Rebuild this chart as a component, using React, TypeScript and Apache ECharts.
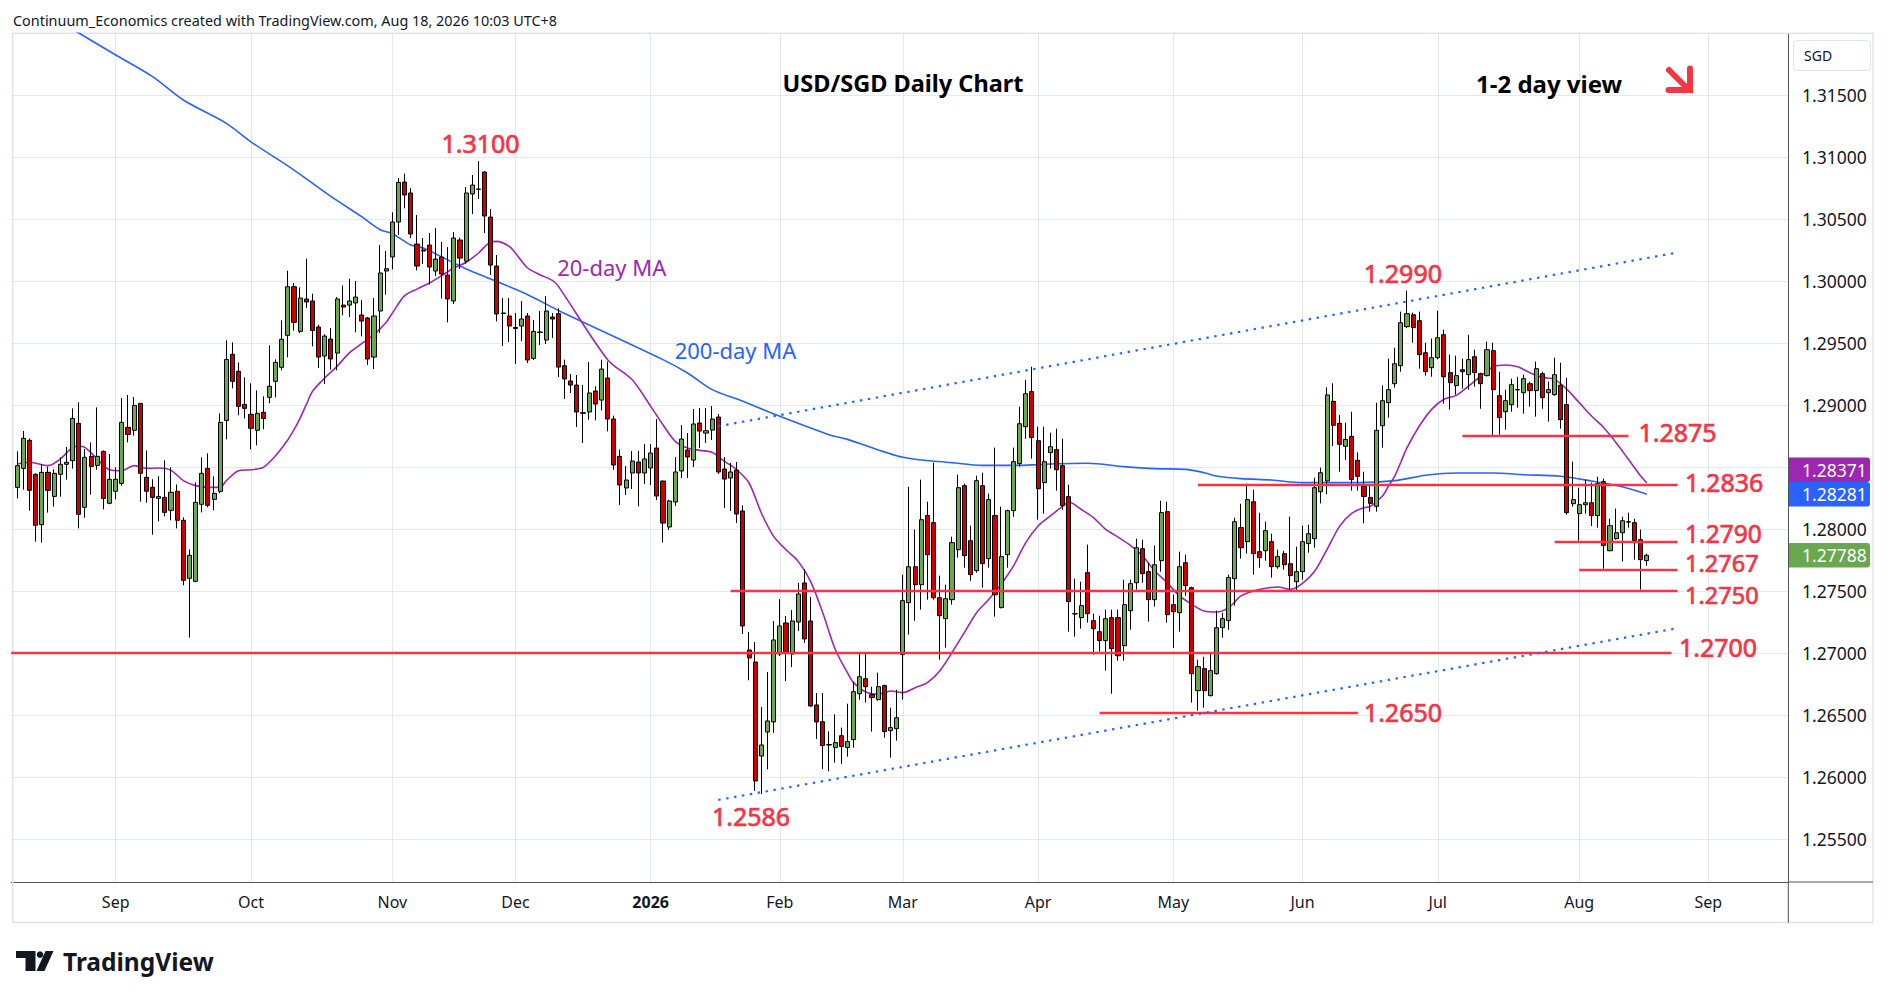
import React, { useEffect, useRef } from "react";
import * as echarts from "echarts";

// ---------- DATA ----------
// Daily candles, each row = [open, high, low, close]
const aug2025 = [
  [1.28336, 1.28626, 1.28247, 1.28511], [1.28489, 1.2879, 1.28317, 1.28731], [1.28715, 1.28731, 1.28148, 1.28312],
  [1.28441, 1.2845, 1.27898, 1.2803], [1.28035, 1.28522, 1.2789, 1.28457], [1.28457, 1.28503, 1.28132, 1.28312],
  [1.28263, 1.28481, 1.2818, 1.28449], [1.28441, 1.28578, 1.28261, 1.28522], [1.28522, 1.28661, 1.28398, 1.28538],
  [1.28551, 1.28973, 1.28487, 1.28892], [1.28852, 1.29022, 1.28005, 1.28118], [1.28175, 1.28645, 1.28091, 1.28578],
  [1.28586, 1.28699, 1.28277, 1.28505], [1.28513, 1.28981, 1.28478, 1.28586], [1.28626, 1.28634, 1.28159, 1.28247],
  [1.28207, 1.28605, 1.282, 1.28401],
];
const sep2025 = [
  [1.28304, 1.28497, 1.28239, 1.28401], [1.28368, 1.29056, 1.28349, 1.2886], [1.2882, 1.29081, 1.28699, 1.28763],
  [1.28796, 1.29065, 1.28753, 1.28997], [1.29013, 1.29015, 1.2822, 1.28449], [1.28417, 1.28634, 1.28212, 1.28304],
  [1.28336, 1.28401, 1.27954, 1.28255], [1.28247, 1.28425, 1.28062, 1.28263], [1.28255, 1.28554, 1.28102, 1.28134],
  [1.28151, 1.28497, 1.2807, 1.28296], [1.28304, 1.2836, 1.28005, 1.2807], [1.2807, 1.28094, 1.27546, 1.27586],
  [1.27602, 1.27836, 1.27124, 1.27788], [1.27578, 1.28376, 1.2757, 1.28215], [1.28199, 1.28578, 1.28134, 1.28449],
  [1.28489, 1.2861, 1.28175, 1.28191], [1.28239, 1.28425, 1.28151, 1.28288], [1.28304, 1.28933, 1.28288, 1.2886],
  [1.28876, 1.29522, 1.28723, 1.29368], [1.29409, 1.29505, 1.29134, 1.29191], [1.29272, 1.29344, 1.28917, 1.28989],
  [1.29005, 1.29223, 1.28892, 1.28973],
];
const oct2025 = [
  [1.28925, 1.29175, 1.28642, 1.28812], [1.28796, 1.29118, 1.28675, 1.28933], [1.28941, 1.2907, 1.28804, 1.28892],
  [1.29062, 1.29481, 1.29013, 1.29151], [1.29191, 1.29368, 1.29062, 1.29344], [1.29304, 1.29683, 1.2928, 1.2953],
  [1.29562, 1.30083, 1.29384, 1.29954], [1.29954, 1.29984, 1.296, 1.29667], [1.29594, 1.29949, 1.2958, 1.29863],
  [1.29855, 1.3018, 1.29782, 1.29831], [1.29839, 1.29898, 1.29473, 1.29602], [1.29629, 1.29648, 1.29298, 1.29387],
  [1.29395, 1.2957, 1.29169, 1.29556], [1.29532, 1.29621, 1.29285, 1.29371], [1.29419, 1.29871, 1.2928, 1.29855],
  [1.29806, 1.29965, 1.29723, 1.2979], [1.29806, 1.30019, 1.2971, 1.29839], [1.29823, 1.3, 1.29586, 1.29871],
  [1.29726, 1.29847, 1.29554, 1.29677], [1.29702, 1.2971, 1.29323, 1.29371], [1.29387, 1.29863, 1.2929, 1.29718],
  [1.29758, 1.3029, 1.29581, 1.30065], [1.30081, 1.30242, 1.2989, 1.30099],
];
const nov2025 = [
  [1.30194, 1.30554, 1.30094, 1.30476], [1.30476, 1.30831, 1.30371, 1.30796], [1.30798, 1.30866, 1.30586, 1.30694],
  [1.3071, 1.3075, 1.30347, 1.30379], [1.30298, 1.30532, 1.30086, 1.30121], [1.3025, 1.30347, 1.30137, 1.30242],
  [1.3029, 1.30387, 1.2997, 1.30113], [1.30081, 1.30427, 1.3004, 1.30177], [1.30194, 1.30315, 1.29858, 1.30056],
  [1.30048, 1.30274, 1.29667, 1.29855], [1.29839, 1.30395, 1.29815, 1.30347], [1.30331, 1.3035, 1.30097, 1.30185],
  [1.30161, 1.30758, 1.30137, 1.3071], [1.30702, 1.30855, 1.3054, 1.30774], [1.30739, 1.30968, 1.30661, 1.30742],
  [1.30879, 1.30887, 1.30387, 1.30524], [1.30516, 1.30581, 1.30048, 1.30129], [1.30121, 1.3021, 1.29675, 1.29734],
  [1.29742, 1.29863, 1.29476, 1.29739], [1.29718, 1.29863, 1.29508, 1.29637],
];
const dec2025 = [
  [1.29626, 1.29742, 1.29331, 1.29618], [1.29637, 1.29839, 1.29516, 1.29694], [1.29718, 1.29742, 1.29339, 1.29363],
  [1.29376, 1.29685, 1.29363, 1.29594], [1.29589, 1.29758, 1.29484, 1.29586], [1.29524, 1.29879, 1.29492, 1.29758],
  [1.2971, 1.29742, 1.2954, 1.29694], [1.29737, 1.2978, 1.29226, 1.29306], [1.29317, 1.29366, 1.29048, 1.2921],
  [1.29194, 1.2925, 1.29097, 1.29161], [1.29161, 1.29242, 1.28823, 1.28944], [1.28938, 1.29161, 1.28694, 1.28933],
  [1.28944, 1.29347, 1.28882, 1.29097], [1.29113, 1.2915, 1.28876, 1.29008], [1.2904, 1.29366, 1.28957, 1.2929],
  [1.29218, 1.2935, 1.28788, 1.28887], [1.28887, 1.28914, 1.28478, 1.28516], [1.28586, 1.2864, 1.28194, 1.28355],
  [1.28331, 1.28508, 1.28274, 1.28395], [1.28452, 1.28629, 1.28323, 1.28548], [1.2854, 1.28629, 1.28183, 1.28452],
  [1.28452, 1.28685, 1.28363, 1.28565],
];
const jan2026 = [
  [1.28492, 1.28685, 1.28355, 1.28613], [1.28653, 1.28887, 1.28234, 1.28266], [1.28387, 1.2839, 1.27892, 1.28048],
  [1.28016, 1.28236, 1.27992, 1.28226], [1.28218, 1.28581, 1.28185, 1.2846], [1.28468, 1.28839, 1.28411, 1.28726],
  [1.28637, 1.28774, 1.28411, 1.28581], [1.28556, 1.28968, 1.285, 1.28847], [1.28855, 1.28976, 1.28653, 1.2879],
  [1.28774, 1.28976, 1.28694, 1.28793], [1.28798, 1.28992, 1.28718, 1.28887], [1.28903, 1.28927, 1.28444, 1.2846],
  [1.28484, 1.28581, 1.28169, 1.28403], [1.28411, 1.28532, 1.28145, 1.2846], [1.28476, 1.2854, 1.28048, 1.28121],
  [1.28145, 1.28191, 1.27153, 1.27218], [1.27024, 1.2717, 1.2678, 1.2696], [1.26927, 1.27089, 1.25887, 1.25968],
  [1.26169, 1.26565, 1.25863, 1.26258], [1.26363, 1.26847, 1.26062, 1.26452], [1.26444, 1.27258, 1.26355, 1.27105],
];
const feb2026 = [
  [1.26992, 1.27435, 1.26976, 1.27218], [1.27242, 1.27298, 1.26774, 1.27008], [1.26992, 1.27347, 1.26887, 1.27258],
  [1.2725, 1.27565, 1.27177, 1.27476], [1.27565, 1.27677, 1.27081, 1.27113], [1.27258, 1.27452, 1.26565, 1.26573],
  [1.26581, 1.26677, 1.26306, 1.26444], [1.26446, 1.26677, 1.26065, 1.26253], [1.26261, 1.26368, 1.26046, 1.26258],
  [1.26237, 1.26505, 1.26116, 1.26277], [1.26333, 1.26398, 1.26105, 1.26245], [1.26237, 1.26591, 1.26164, 1.26285],
  [1.26301, 1.26769, 1.26237, 1.26688], [1.26672, 1.26997, 1.26624, 1.26809], [1.26793, 1.26997, 1.266, 1.26728],
  [1.26664, 1.26728, 1.26366, 1.2664], [1.26624, 1.26841, 1.26616, 1.26728], [1.26737, 1.26745, 1.26317, 1.26366],
  [1.26374, 1.26559, 1.26156, 1.26398], [1.2639, 1.26704, 1.26293, 1.26478],
];
const mar2026 = [
  [1.26987, 1.27632, 1.26624, 1.27422], [1.27406, 1.28341, 1.27148, 1.27696], [1.27696, 1.27995, 1.2726, 1.27551],
  [1.27551, 1.28398, 1.2735, 1.28075], [1.28108, 1.2822, 1.2743, 1.27793], [1.28051, 1.28535, 1.2743, 1.27446],
  [1.27446, 1.27624, 1.26946, 1.27301], [1.27277, 1.27551, 1.27043, 1.27438], [1.2743, 1.27938, 1.2739, 1.2789],
  [1.27833, 1.28438, 1.27769, 1.28333], [1.28349, 1.28366, 1.27688, 1.27785], [1.27906, 1.28027, 1.27583, 1.27632],
  [1.27664, 1.2843, 1.27648, 1.2839], [1.28349, 1.28454, 1.27527, 1.2772], [1.27761, 1.28285, 1.27688, 1.28237],
  [1.28108, 1.28656, 1.27293, 1.2747], [1.27366, 1.2818, 1.2736, 1.27777], [1.27793, 1.28156, 1.27688, 1.28148],
  [1.28148, 1.28656, 1.28099, 1.28543], [1.28527, 1.28987, 1.28503, 1.28849], [1.28825, 1.29204, 1.28728, 1.29091],
  [1.29108, 1.29309, 1.28567, 1.28737],
];
const apr2026 = [
  [1.28712, 1.28825, 1.28075, 1.28325], [1.28374, 1.28825, 1.28124, 1.28543], [1.28616, 1.28777, 1.28487, 1.28664],
  [1.2864, 1.28809, 1.28309, 1.28478], [1.28511, 1.28729, 1.28156, 1.28188], [1.28261, 1.28358, 1.27172, 1.27414],
  [1.27317, 1.27599, 1.27132, 1.27315], [1.27285, 1.27575, 1.27196, 1.27382], [1.27648, 1.27874, 1.27245, 1.27317],
  [1.27261, 1.27317, 1.26987, 1.27196], [1.27172, 1.27301, 1.27011, 1.271], [1.271, 1.2735, 1.26858, 1.27277],
  [1.27285, 1.2735, 1.26672, 1.27035], [1.27285, 1.2735, 1.26938, 1.26978], [1.27059, 1.27591, 1.26938, 1.2739],
  [1.27341, 1.27591, 1.27188, 1.27559], [1.27567, 1.27922, 1.27511, 1.27849], [1.27841, 1.27914, 1.27567, 1.2764],
  [1.27656, 1.27728, 1.27253, 1.2743], [1.2743, 1.27866, 1.27374, 1.27712], [1.27745, 1.28228, 1.27656, 1.28132],
  [1.2814, 1.2822, 1.27245, 1.27309],
];
const may2026 = [
  [1.2739, 1.2747, 1.2704, 1.27333], [1.27325, 1.27817, 1.27172, 1.27696], [1.27728, 1.27793, 1.27462, 1.27543],
  [1.27527, 1.27535, 1.266, 1.26833], [1.26696, 1.26946, 1.26535, 1.2689], [1.26874, 1.2697, 1.26559, 1.26696],
  [1.26656, 1.26995, 1.2665, 1.26858], [1.26833, 1.27341, 1.26825, 1.27204], [1.27204, 1.27325, 1.27124, 1.27277],
  [1.27261, 1.27632, 1.27188, 1.27608], [1.27599, 1.28091, 1.27382, 1.28059], [1.28011, 1.28204, 1.27761, 1.27849],
  [1.27898, 1.28366, 1.27801, 1.28237], [1.2822, 1.28317, 1.27632, 1.27801], [1.27817, 1.28132, 1.27688, 1.27769],
  [1.27825, 1.28059, 1.27745, 1.27987], [1.27898, 1.27962, 1.27608, 1.27696], [1.27696, 1.27833, 1.2768, 1.27777],
  [1.27801, 1.27825, 1.27672, 1.27712], [1.2772, 1.281, 1.27511, 1.27624], [1.27575, 1.27858, 1.275, 1.27656],
];
const jun2026 = [
  [1.27656, 1.28027, 1.27591, 1.27898], [1.27882, 1.28035, 1.27809, 1.27962], [1.27922, 1.28414, 1.27849, 1.28333],
  [1.28301, 1.28495, 1.28207, 1.28454], [1.28387, 1.29142, 1.2828, 1.29081], [1.2903, 1.29175, 1.28669, 1.28836],
  [1.28852, 1.28919, 1.28462, 1.28683], [1.28667, 1.28858, 1.28556, 1.28723], [1.28747, 1.28946, 1.28309, 1.284],
  [1.28554, 1.28618, 1.28309, 1.28425], [1.28344, 1.28462, 1.28046, 1.28263], [1.28255, 1.28355, 1.2814, 1.28207],
  [1.28183, 1.29019, 1.2814, 1.28796], [1.28833, 1.29159, 1.28656, 1.29035], [1.29019, 1.29374, 1.28898, 1.29124],
  [1.29172, 1.29462, 1.2914, 1.29333], [1.29317, 1.29753, 1.29269, 1.29664], [1.29632, 1.29922, 1.2962, 1.29737],
  [1.29728, 1.29745, 1.29503, 1.29624], [1.2968, 1.29753, 1.29293, 1.29406], [1.29422, 1.29503, 1.29237, 1.29269],
  [1.29301, 1.29535, 1.29228, 1.29382],
];
const jul2026 = [
  [1.29382, 1.29761, 1.29368, 1.29543], [1.29567, 1.29608, 1.29011, 1.29228], [1.29261, 1.29406, 1.28962, 1.2918],
  [1.29156, 1.29398, 1.29083, 1.29237], [1.29285, 1.29374, 1.29132, 1.29269], [1.29245, 1.29567, 1.29124, 1.29366],
  [1.2939, 1.29446, 1.29148, 1.29261], [1.29253, 1.29261, 1.2897, 1.29172], [1.29237, 1.29511, 1.2923, 1.29446],
  [1.29438, 1.29503, 1.28753, 1.29124], [1.29075, 1.29269, 1.28761, 1.28898], [1.28946, 1.29124, 1.28801, 1.29035],
  [1.29003, 1.29212, 1.28946, 1.29164], [1.29122, 1.29228, 1.28978, 1.29124], [1.29099, 1.29245, 1.2893, 1.29212],
  [1.29172, 1.29188, 1.28987, 1.29116], [1.29116, 1.2935, 1.28906, 1.29293], [1.29253, 1.29269, 1.2897, 1.29059],
  [1.29099, 1.29188, 1.28866, 1.29124], [1.29083, 1.29382, 1.29075, 1.29245], [1.2916, 1.29341, 1.28809, 1.28882],
  [1.29003, 1.2922, 1.28116, 1.28132], [1.28204, 1.28543, 1.2818, 1.28237],
];
const aug2026 = [
  [1.28124, 1.28333, 1.27906, 1.28196], [1.28196, 1.28398, 1.28124, 1.28212], [1.28212, 1.28374, 1.28024, 1.28108],
  [1.28108, 1.28422, 1.28011, 1.28366], [1.28382, 1.28406, 1.2768, 1.27866], [1.27825, 1.28083, 1.2782, 1.28027],
  [1.27922, 1.28164, 1.27915, 1.2797], [1.2797, 1.28099, 1.27737, 1.28067], [1.28056, 1.28132, 1.28011, 1.28058],
  [1.28051, 1.28083, 1.27753, 1.27906], [1.27914, 1.27995, 1.27511, 1.27753], [1.27745, 1.27801, 1.27704, 1.27788],
];
const FIRST_CANDLE = "2025-08-08";

// 20-day moving average
const ma20Points: [string, number][] = [
  ["2025-08-08", 1.28524], ["2025-08-12", 1.28538], ["2025-08-15", 1.28511], ["2025-08-19", 1.28565], ["2025-08-21", 1.28659],
  ["2025-08-22", 1.28667], ["2025-08-25", 1.28659], ["2025-08-27", 1.28565], ["2025-08-29", 1.28478], ["2025-09-02", 1.2847],
  ["2025-09-04", 1.28511], ["2025-09-08", 1.28489], ["2025-09-10", 1.28492], ["2025-09-12", 1.28473], ["2025-09-16", 1.2839],
  ["2025-09-18", 1.2835], ["2025-09-22", 1.28336], ["2025-09-24", 1.28336], ["2025-09-25", 1.2839], ["2025-09-29", 1.2847],
  ["2025-10-01", 1.28478], ["2025-10-03", 1.28497], ["2025-10-07", 1.28591], ["2025-10-09", 1.2872], ["2025-10-10", 1.28801],
  ["2025-10-13", 1.28895], ["2025-10-14", 1.29003], ["2025-10-15", 1.2911], ["2025-10-17", 1.29218], ["2025-10-21", 1.29312],
  ["2025-10-23", 1.2942], ["2025-10-27", 1.29495], ["2025-10-29", 1.29567], ["2025-10-31", 1.29667], ["2025-11-03", 1.29742],
  ["2025-11-05", 1.29882], ["2025-11-07", 1.29935], ["2025-11-11", 1.29984], ["2025-11-13", 1.30043], ["2025-11-17", 1.30105],
  ["2025-11-19", 1.30151], ["2025-11-21", 1.30226], ["2025-11-25", 1.30315], ["2025-11-26", 1.3032], ["2025-11-28", 1.3028],
  ["2025-12-01", 1.30226], ["2025-12-03", 1.30105], ["2025-12-05", 1.30051], ["2025-12-09", 1.30005], ["2025-12-10", 1.29957],
  ["2025-12-22", 1.29366], ["2025-12-29", 1.29204], ["2026-01-02", 1.28989], ["2026-01-06", 1.28841], ["2026-01-08", 1.28707],
  ["2026-01-12", 1.28653], ["2026-01-14", 1.28634], ["2026-01-16", 1.28618], ["2026-01-20", 1.28546], ["2026-01-22", 1.28478],
  ["2026-01-26", 1.28371], ["2026-01-28", 1.28129], ["2026-01-30", 1.27941], ["2026-02-03", 1.27833], ["2026-02-05", 1.27739],
  ["2026-02-09", 1.27578], ["2026-02-11", 1.27323], ["2026-02-13", 1.2703], ["2026-02-17", 1.26841], ["2026-02-18", 1.26761],
  ["2026-02-20", 1.26685], ["2026-02-24", 1.26667], ["2026-02-26", 1.26694], ["2026-03-02", 1.2668], ["2026-03-04", 1.2672],
  ["2026-03-06", 1.26761], ["2026-03-10", 1.26855], ["2026-03-12", 1.27003], ["2026-03-16", 1.27164], ["2026-03-18", 1.27325],
  ["2026-03-20", 1.27433], ["2026-03-24", 1.27554], ["2026-03-26", 1.27702], ["2026-03-30", 1.2789], ["2026-04-01", 1.28024],
  ["2026-04-03", 1.28105], ["2026-04-07", 1.28185], ["2026-04-08", 1.28218], ["2026-04-10", 1.28159], ["2026-04-14", 1.28092],
  ["2026-04-16", 1.27997], ["2026-04-20", 1.27935], ["2026-04-22", 1.27868], ["2026-04-24", 1.27782], ["2026-04-28", 1.27661],
  ["2026-04-30", 1.27567], ["2026-05-04", 1.2746], ["2026-05-06", 1.27392], ["2026-05-08", 1.27339], ["2026-05-12", 1.27331],
  ["2026-05-14", 1.27366], ["2026-05-18", 1.2746], ["2026-05-20", 1.275], ["2026-05-22", 1.27522], ["2026-05-26", 1.27532],
  ["2026-05-28", 1.27513], ["2026-06-01", 1.27562], ["2026-06-03", 1.27661], ["2026-06-05", 1.27836], ["2026-06-09", 1.28019],
  ["2026-06-11", 1.28126], ["2026-06-15", 1.28172], ["2026-06-16", 1.2818], ["2026-06-18", 1.28266], ["2026-06-19", 1.28347],
  ["2026-06-22", 1.28427], ["2026-06-23", 1.2854], ["2026-06-24", 1.28656], ["2026-06-26", 1.28831], ["2026-06-30", 1.28965],
  ["2026-07-02", 1.29046], ["2026-07-06", 1.29078], ["2026-07-08", 1.29153], ["2026-07-10", 1.29234], ["2026-07-14", 1.29309],
  ["2026-07-16", 1.29323], ["2026-07-20", 1.29309], ["2026-07-22", 1.29261], ["2026-07-24", 1.29223], ["2026-07-28", 1.29207],
  ["2026-07-30", 1.29126], ["2026-08-03", 1.29019], ["2026-08-05", 1.28911], ["2026-08-07", 1.28817], ["2026-08-11", 1.28696],
  ["2026-08-13", 1.28562], ["2026-08-17", 1.28427], ["2026-08-18", 1.28371],
];
// 200-day moving average (first point lies above the visible range)
const ma200Points: [string, number][] = [
  ["2025-08-08", 1.3229], ["2025-08-22", 1.32], ["2025-09-01", 1.31823], ["2025-09-09", 1.31648], ["2025-09-16", 1.3146],
  ["2025-09-25", 1.31272], ["2025-10-01", 1.31123], ["2025-10-10", 1.30895], ["2025-10-20", 1.30683], ["2025-10-27", 1.30519],
  ["2025-10-30", 1.30414], ["2025-11-03", 1.30382], ["2025-11-06", 1.3029], ["2025-11-10", 1.30266], ["2025-11-17", 1.30145],
  ["2025-11-19", 1.30097], ["2025-11-25", 1.30016], ["2025-12-03", 1.2989], ["2025-12-10", 1.29763], ["2026-01-06", 1.29366],
  ["2026-01-12", 1.29258], ["2026-01-16", 1.29124], ["2026-01-23", 1.2903], ["2026-02-02", 1.28909], ["2026-02-12", 1.28761],
  ["2026-02-17", 1.28723], ["2026-03-02", 1.28578], ["2026-03-12", 1.28535], ["2026-03-19", 1.28513], ["2026-03-27", 1.28513],
  ["2026-04-03", 1.28524], ["2026-04-13", 1.2853], ["2026-04-21", 1.28503], ["2026-04-28", 1.28487], ["2026-05-05", 1.28481],
  ["2026-05-08", 1.28454], ["2026-05-12", 1.28427], ["2026-05-18", 1.28406], ["2026-05-25", 1.28395], ["2026-06-01", 1.28374],
  ["2026-06-09", 1.28374], ["2026-06-12", 1.28374], ["2026-06-22", 1.2839], ["2026-06-29", 1.28433], ["2026-07-06", 1.28452],
  ["2026-07-14", 1.28452], ["2026-07-21", 1.28438], ["2026-07-29", 1.28425], ["2026-08-05", 1.28387], ["2026-08-12", 1.28341],
  ["2026-08-18", 1.28281],
];

// Horizontal levels drawn on the chart
const levelPrices = [1.2875, 1.2836, 1.279, 1.2767, 1.275, 1.27, 1.2652];
const levelLabels = ["1.2875", "1.2836", "1.2790", "1.2767", "1.2750", "1.2700", "1.2650"];
const levelFrom = ["2026-07-07", "2026-05-07", "2026-07-28", "2026-08-03", "2026-01-21", "2025-08-07", "2026-04-15"];
const levelTo = ["2026-08-13", "2026-08-25", "2026-08-25", "2026-08-25", "2026-08-25", "2026-08-24", "2026-06-12"];

// Dotted channel lines: [fromDate, fromPrice, toDate, toPrice]
const channelLines: [string, number, string, number][] = [
  ["2026-01-19", 1.28829, "2026-08-25", 1.3023],
  ["2026-01-19", 1.25815, "2026-08-25", 1.272],
];

// Swing high / low annotations
const swingLabels = ["1.3100", "1.2990", "1.2586"];
const swingDates = ["2025-11-21", "2026-06-23", "2026-01-26"];
const swingPrices = [1.3111, 1.30062, 1.25682];

const HOLIDAYS = ["2025-12-25", "2026-01-01"];
const MONTHS = ["Jan", "Feb", "Mar", "Apr", "May", "Jun", "Jul", "Aug", "Sep", "Oct", "Nov", "Dec"];

// ---------- helpers ----------
function buildDates(): string[] {
  const out: string[] = [];
  const d = new Date(Date.UTC(2025, 7, 7));
  const end = Date.UTC(2026, 8, 18);
  while (d.getTime() <= end) {
    const wd = d.getUTCDay();
    const s = d.toISOString().slice(0, 10);
    if (wd !== 0 && wd !== 6 && HOLIDAYS.indexOf(s) < 0) out.push(s);
    d.setUTCDate(d.getUTCDate() + 1);
  }
  return out;
}

const FONT = "'Noto Sans', 'DejaVu Sans', sans-serif";
const RED = "#f23645";
const GREEN = "#6aa84f";
const PURPLE = "#9c27b0";
const BLUE = "#2962ff";
const TEXT = "#131722";

export default function App() {
  const ref = useRef<HTMLDivElement>(null);

  useEffect(() => {
    const el = ref.current;
    if (!el) return;
    const chart = echarts.init(el, undefined, { renderer: "svg" });

    const dates = buildDates();
    const idx: Record<string, number> = {};
    dates.forEach((d, i) => (idx[d] = i));

    const allRows = [
      ...aug2025, ...sep2025, ...oct2025, ...nov2025, ...dec2025, ...jan2026, ...feb2026,
      ...mar2026, ...apr2026, ...may2026, ...jun2026, ...jul2026, ...aug2026,
    ];
    const start = idx[FIRST_CANDLE];
    const candleData = allRows.map((r, k) => [start + k, r[0], r[3], r[2], r[1]]);
    const ma20Data = ma20Points.map(([d, v]) => [idx[d], v]);
    const ma200Data = ma200Points.map(([d, v]) => [idx[d], v]);

    const monthStart: Record<number, string> = {};
    for (let i = 1; i < dates.length; i++) {
      if (dates[i].slice(5, 7) !== dates[i - 1].slice(5, 7)) {
        const m = parseInt(dates[i].slice(5, 7), 10);
        monthStart[i] = m === 1 ? "{b|" + dates[i].slice(0, 4) + "}" : MONTHS[m - 1];
      }
    }
    const isMonthStart = (i: number) => monthStart[i] !== undefined;

    const markData: any[] = [];
    levelPrices.forEach((p, i) => {
      markData.push([
        { coord: [idx[levelFrom[i]], p], lineStyle: { color: RED, width: 2.4, type: "solid" } },
        { coord: [idx[levelTo[i]], p] },
      ]);
    });
    channelLines.forEach(([d0, p0, d1, p1]) => {
      markData.push([
        { coord: [idx[d0], p0], lineStyle: { color: BLUE, width: 2.2, type: [2.4, 5.6] } },
        { coord: [idx[d1], p1] },
      ]);
    });

    const gridLeft = 11.14;
    const gridRight = 1888 - 1788.3;
    const gridTop = 33.3;
    const gridBottom = 996 - 882;

    const option: any = {
      animation: false,
      backgroundColor: "#ffffff",
      grid: { left: gridLeft, right: gridRight, top: gridTop, bottom: gridBottom, containLabel: false, outerBoundsMode: "none" },
      xAxis: {
        type: "category",
        data: dates,
        boundaryGap: false,
        axisLine: { show: true, lineStyle: { color: "#50535e", width: 1 } },
        axisTick: { show: false },
        axisLabel: {
          interval: (i: number) => isMonthStart(i),
          formatter: (_v: string, i: number) => monthStart[i] || "",
          color: TEXT,
          fontSize: 16,
          fontFamily: FONT,
          margin: 12,
          rich: { b: { fontWeight: "bold", fontSize: 16, fontFamily: FONT, color: TEXT } },
        },
        splitLine: { show: true, interval: (i: number) => isMonthStart(i), lineStyle: { color: "#e4e9f0", width: 1 } },
      },
      yAxis: {
        type: "value",
        position: "right",
        min: 1.25153,
        max: 1.31998,
        splitNumber: 14,
        minInterval: 0.005,
        maxInterval: 0.005,
        axisLine: { show: true, lineStyle: { color: "#50535e", width: 1 } },
        axisTick: { show: false },
        axisLabel: {
          margin: 13.7,
          color: TEXT,
          fontSize: 17.5,
          fontFamily: FONT,
          showMinLabel: false,
          showMaxLabel: false,
          formatter: (v: number) => {
            const k = v / 0.005;
            return Math.abs(k - Math.round(k)) < 1e-6 ? v.toFixed(5) : "";
          },
        },
        splitLine: { show: true, lineStyle: { color: "#e4e9f0", width: 1 } },
      },
      series: [
        {
          name: "200-day MA",
          type: "line",
          data: ma200Data,
          showSymbol: false,
          smooth: 0.3,
          lineStyle: { color: BLUE, width: 1.6 },
          z: 2,
          silent: true,
        },
        {
          name: "20-day MA",
          type: "line",
          data: ma20Data,
          showSymbol: false,
          smooth: 0.3,
          lineStyle: { color: PURPLE, width: 1.6 },
          z: 2,
          silent: true,
        },
        {
          name: "USD/SGD",
          type: "candlestick",
          data: candleData,
          encode: { x: 0, y: [1, 2, 3, 4] },
          barWidth: 4.6,
          itemStyle: {
            color: GREEN,
            color0: "#cc0000",
            borderColor: "#000000",
            borderColor0: "#000000",
            borderWidth: 1,
          },
          z: 3,
          silent: true,
        },
        {
          name: "drawings",
          type: "line",
          data: [],
          z: 5,
          silent: true,
          markLine: {
            silent: true,
            symbol: ["none", "none"],
            label: { show: false },
            emphasis: { disabled: true },
            data: markData,
          },
        },
      ],
    };

    chart.setOption(option);

    const px = (i: number, v: number) =>
      chart.convertToPixel({ xAxisIndex: 0, yAxisIndex: 0 }, [i, v]) as number[];

    const txt = (
      text: string, x: number, y: number, size: number, color: string,
      align = "left", weight = "normal", extra: any = {}
    ) => ({
      type: "text",
      silent: true,
      z: 50,
      style: {
        text,
        x,
        y,
        fill: color,
        fontSize: size,
        fontFamily: FONT,
        fontWeight: weight,
        align,
        textAlign: align,
        verticalAlign: "middle",
        textVerticalAlign: "middle",
        ...extra,
      },
    });
    const redExtra = { stroke: RED, lineWidth: 0.7, lineHeight: 22 };

    const g: any[] = [];
    // frame
    g.push({
      type: "rect",
      silent: true,
      z: 1,
      shape: { x: 12.7, y: 33.3, width: 1873 - 12.7, height: 922.6 - 33.3 },
      style: { fill: "none", stroke: "#e0e3eb", lineWidth: 1.5 },
    });
    g.push({ type: "line", silent: true, z: 40, shape: { x1: 1788.3, y1: 882, x2: 1873, y2: 882 }, style: { stroke: "#50535e", lineWidth: 1 } });
    g.push({ type: "line", silent: true, z: 40, shape: { x1: 1788.3, y1: 882, x2: 1788.3, y2: 922.6 }, style: { stroke: "#50535e", lineWidth: 1 } });

    // header
    g.push(txt("Continuum_Economics created with TradingView.com, Aug 18, 2026 10:03 UTC+8", 13, 20, 14.4, TEXT));
    // titles
    g.push(txt("USD/SGD Daily Chart", 903, 83, 23.5, "#000000", "center", "bold"));
    g.push(txt("1-2 day view", 1476, 83, 24, "#000000", "left", "bold"));
    // arrow
    g.push({ type: "line", silent: true, z: 50, shape: { x1: 1669, y1: 70, x2: 1687, y2: 88 }, style: { stroke: RED, lineWidth: 6, lineCap: "round" } });
    g.push({
      type: "polyline",
      silent: true,
      z: 50,
      shape: { points: [[1690, 68.5], [1690, 90], [1668.5, 90]] },
      style: { stroke: RED, lineWidth: 6, lineJoin: "miter", lineCap: "round", fill: "none" },
    });
    // currency box
    g.push({
      type: "rect",
      silent: true,
      z: 50,
      shape: { x: 1793.5, y: 40.5, width: 77, height: 30, r: 4 },
      style: { fill: "#ffffff", stroke: "#e0e3eb", lineWidth: 1 },
    });
    g.push(txt("SGD", 1804, 55.5, 14, TEXT));

    // MA labels
    g.push(txt("20-day MA", 611.7, 267.3, 22, PURPLE, "center"));
    g.push(txt("200-day MA", 735.5, 350.4, 22, BLUE, "center"));

    // swing annotations
    swingLabels.forEach((t, i) => {
      const p = px(idx[swingDates[i]], swingPrices[i]);
      g.push(txt(t, p[0] + 2, p[1], 25, RED, "center", "normal", redExtra));
    });
    // level labels
    const levelDx = [10, 7.5, 7.5, 7.5, 7.5, 7.5, 6];
    const levelDy = [-4, -2, -8.2, -7.2, 3.8, -5.5, -1];
    const levelSize = [25, 25, 24.5, 23.5, 23.5, 25, 25];
    levelPrices.forEach((p, i) => {
      const q = px(idx[levelTo[i]], p);
      g.push(txt(levelLabels[i], q[0] + levelDx[i], q[1] + levelDy[i], levelSize[i], RED, "left", "normal", redExtra));
    });

    // price tags on the axis
    const lastClose = allRows[allRows.length - 1][3];
    const lastMa20 = ma20Points[ma20Points.length - 1][1];
    const lastMa200 = ma200Points[ma200Points.length - 1][1];
    const yBlue = px(0, lastMa200)[1];
    const yPurple = Math.min(px(0, lastMa20)[1], yBlue - 24.5);
    const yGreen = px(0, lastClose)[1];
    const tag = (y: number, color: string, value: number) => {
      g.push({
        type: "rect",
        silent: true,
        z: 60,
        shape: { x: 1789, y: y - 12.25, width: 81, height: 24.5, r: [0, 3, 3, 0] },
        style: { fill: color },
      });
      g.push({ ...txt(value.toFixed(5), 1802, y, 17.5, "#ffffff", "left", "normal", { lineHeight: 22 }), z: 61 });
    };
    tag(yPurple, PURPLE, lastMa20);
    tag(yBlue, BLUE, lastMa200);
    tag(yGreen, GREEN, lastClose);

    // TradingView logo
    g.push({
      type: "polygon",
      silent: true,
      z: 50,
      shape: { points: [[16, 951], [35.5, 951], [35.5, 971], [25.5, 971], [25.5, 958], [16, 958]] },
      style: { fill: TEXT },
    });
    g.push({ type: "circle", silent: true, z: 50, shape: { cx: 40, cy: 954.6, r: 3.3 }, style: { fill: TEXT } });
    g.push({
      type: "polygon",
      silent: true,
      z: 50,
      shape: { points: [[45.5, 951], [53.5, 951], [44.5, 971], [36.5, 971]] },
      style: { fill: TEXT },
    });
    g.push(txt("TradingView", 63, 961.5, 24.5, TEXT, "left", "bold"));

    chart.setOption({ graphic: { elements: g } });

    return () => {
      chart.dispose();
    };
  }, []);

  return (
    <div
      ref={ref}
      style={{ position: "fixed", left: 0, top: 0, width: 1888, height: 996, background: "#ffffff" }}
    />
  );
}
